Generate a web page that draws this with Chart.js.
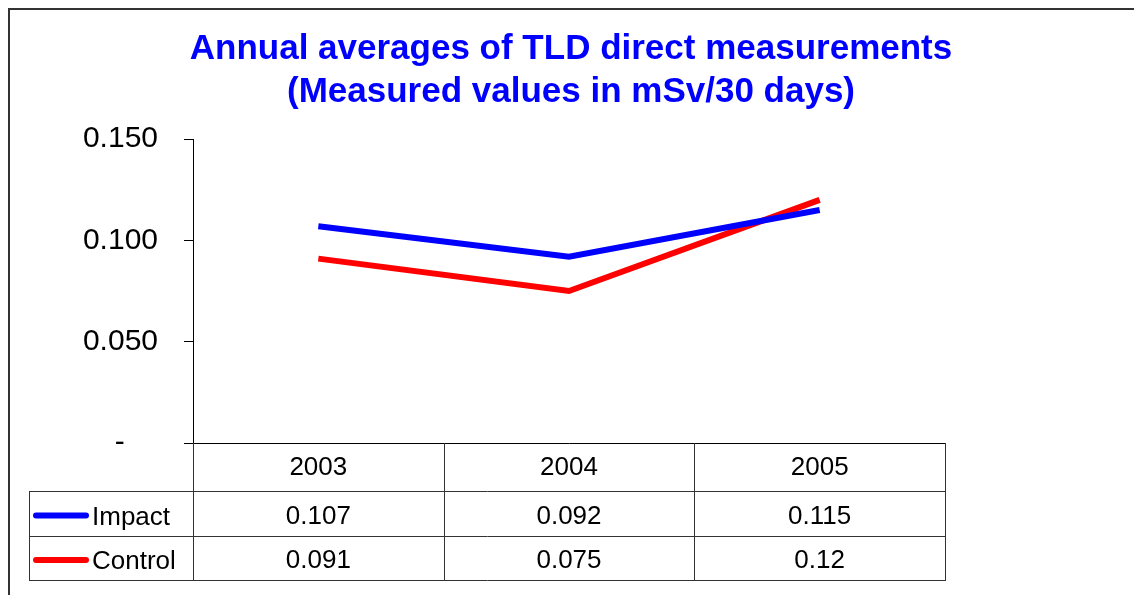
<!DOCTYPE html>
<html>
<head>
<meta charset="utf-8">
<title>Annual averages of TLD direct measurements</title>
<script src="https://cdn.jsdelivr.net/npm/chart.js@4.4.0/dist/chart.umd.min.js"></script>
<style>
  html, body { margin: 0; padding: 0; background: #fff; }
  canvas { display: block; }
</style>
</head>
<body>
<canvas id="tldChart" width="1134" height="595"></canvas>
<script>
const years = ['2003', '2004', '2005'];
const impactValues = [0.107, 0.092, 0.115];
const controlValues = [0.091, 0.075, 0.12];
const seriesNames = ['Impact', 'Control'];
const seriesColors = ['#0000FF', '#FF0000'];

const FONT = '"Liberation Sans", Arial, sans-serif';

// outer frame, like the exported Excel chart
const frame = {
  id: 'frame',
  beforeDraw(chart) {
    const ctx = chart.ctx;
    ctx.save();
    ctx.strokeStyle = '#333';
    ctx.lineWidth = 2;
    ctx.strokeRect(9, 9, 1300, 800);
    ctx.restore();
  }
};

// data table under the x axis (header row + one row per series)
const dataTable = {
  id: 'dataTable',
  afterDraw(chart) {
    const { ctx, chartArea, scales: { x } } = chart;
    const top = chartArea.bottom;
    const rows = [0, 48, 93, 137].map(r => Math.round(top + r));
    const legendLeft = 29;
    const half = (x.getPixelForValue(1) - x.getPixelForValue(0)) / 2;
    const edges = [];
    years.forEach((y, i) => edges.push(x.getPixelForValue(i) - half));
    edges.push(x.getPixelForValue(years.length - 1) + half);
    const right = edges[edges.length - 1];

    ctx.save();
    ctx.strokeStyle = '#333';
    ctx.lineWidth = 1;
    ctx.beginPath();
    edges.forEach(e => {
      ctx.moveTo(Math.round(e) + 0.5, rows[0]);
      ctx.lineTo(Math.round(e) + 0.5, rows[3] + 1);
    });
    ctx.moveTo(legendLeft + 0.5, rows[1]);
    ctx.lineTo(legendLeft + 0.5, rows[3] + 1);
    for (let r = 1; r <= 3; r++) {
      ctx.moveTo(legendLeft, rows[r] + 0.5);
      ctx.lineTo(right + 1, rows[r] + 0.5);
    }
    ctx.stroke();

    ctx.fillStyle = '#000';
    ctx.font = '26px ' + FONT;
    ctx.textBaseline = 'middle';
    ctx.textAlign = 'center';
    years.forEach((y, i) => {
      ctx.fillText(y, x.getPixelForValue(i), (rows[0] + rows[1]) / 2 + 1);
    });

    chart.data.datasets.forEach((ds, r) => {
      const cy = (rows[r + 1] + rows[r + 2]) / 2 + 2;
      ctx.strokeStyle = ds.borderColor;
      ctx.lineWidth = 6;
      ctx.lineCap = 'round';
      ctx.beginPath();
      ctx.moveTo(36, cy);
      ctx.lineTo(86, cy);
      ctx.stroke();
      ctx.textAlign = 'left';
      ctx.fillText(ds.label, 92, cy + 2);
      ctx.textAlign = 'center';
      ds.data.forEach((v, i) => {
        ctx.fillText(String(v), x.getPixelForValue(i), cy + 1);
      });
    });
    ctx.restore();
  }
};

new Chart(document.getElementById('tldChart'), {
  type: 'line',
  data: {
    labels: years,
    datasets: [
      { label: seriesNames[0], data: impactValues, borderColor: seriesColors[0], borderWidth: 6, pointRadius: 0, tension: 0, fill: false },
      { label: seriesNames[1], data: controlValues, borderColor: seriesColors[1], borderWidth: 6, pointRadius: 0, tension: 0, fill: false }
    ]
  },
  options: {
    responsive: false,
    animation: false,
    layout: { padding: { left: 8, right: 0, top: 0, bottom: 0 } },
    plugins: {
      legend: { display: false },
      tooltip: { enabled: false },
      title: {
        display: true,
        text: ['Annual averages of TLD direct measurements', '(Measured values in mSv/30 days)'],
        color: '#0000FF',
        font: { size: 35, weight: 'bold', family: FONT, lineHeight: 1.23 },
        padding: { top: 28, bottom: 25 }
      }
    },
    scales: {
      x: {
        offset: true,
        ticks: { display: false },
        grid: { display: false },
        border: { color: '#000', width: 1 },
        afterFit(scale) { scale.height = 152; }
      },
      y: {
        min: 0,
        max: 0.15,
        ticks: {
          stepSize: 0.05,
          color: '#000',
          padding: 26,
          font: { size: 30, family: FONT },
          // accounting style: zero shows as a dash set in from the right
          callback: v => (v === 0 ? '-    ' : v.toFixed(3))
        },
        grid: { drawOnChartArea: false, drawTicks: true, tickLength: 9, color: '#000' },
        border: { color: '#000', width: 1 },
        afterFit(scale) { scale.width = 185; }
      },
      // empty space on the right of the plot
      yRight: {
        type: 'linear',
        position: 'right',
        ticks: { display: false },
        grid: { display: false },
        border: { display: false },
        afterFit(scale) { scale.width = 189; }
      }
    }
  },
  plugins: [frame, dataTable]
});
</script>
</body>
</html>
